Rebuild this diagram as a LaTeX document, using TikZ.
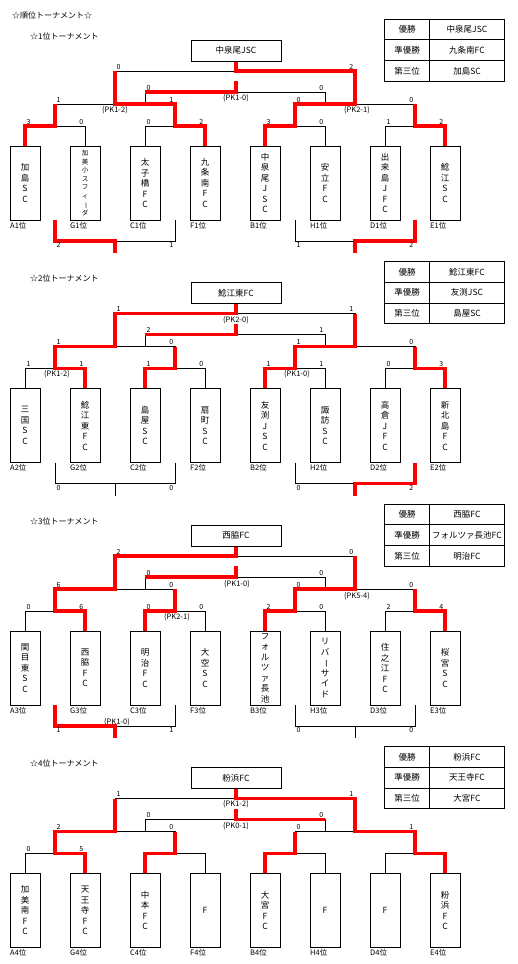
\documentclass[tikz,border=0pt]{standalone}
\usepackage{fontspec}
\usepackage{graphicx}
\setmainfont{Noto Sans CJK JP}
\usetikzlibrary{positioning}

% 縦書きの長音
\newcommand{\cho}{\rotatebox[origin=c]{-90}{ー}}

\tikzset{
  bline/.style={line width=0.9pt},
  rline/.style={red, line width=3.3pt},
  team/.style={draw, line width=1pt, minimum width=30pt, minimum height=74pt,
    inner sep=0pt, align=center, font=\fontsize{8.5}{10.5}\selectfont},
  smallteam/.style={team, font=\fontsize{6.5}{8.5}\selectfont},
  champ/.style={draw, line width=1pt, minimum width=90pt, minimum height=21pt,
    font=\fontsize{8.5}{10}\selectfont},
  cell/.style={draw, line width=1pt, minimum height=20.6pt, inner sep=0pt,
    outer sep=0pt, font=\fontsize{8.5}{10}\selectfont},
  rank/.style={anchor=north west, inner sep=0.5pt, yshift=-1pt,
    font=\fontsize{7.5}{9}\selectfont},
  num/.style={inner sep=1.5pt, font=\fontsize{7}{8}\selectfont},
  pk/.style={inner sep=1pt, font=\fontsize{7.5}{8}\selectfont},
  ttl/.style={anchor=west, inner sep=0pt, font=\fontsize{8}{10}\selectfont},
}

% 黒の線
\newcommand{\bracketlines}{%
  \draw[bline] (115,104) |- (355,71) -- (355,104);
  \draw[bline] (145,104) |- (325,92) -- (325,104);
  \foreach \a/\b in {55/175, 295/415}
    \draw[bline] (\a,126) |- (\b,104) -- (\b,126);
  \foreach \a/\b in {25/85, 145/205, 265/325, 385/445}
    \draw[bline] (\a,146) |- (\b,126) -- (\b,146);
}
\newcommand{\bottomlines}{%
  \foreach \a/\b in {55/175, 295/415} {
    \draw[bline] (\a,220) |- (\b,241) -- (\b,220);
    \draw[bline] ({(\a+\b)/2},241) -- ({(\a+\b)/2},253);
  }
}

% チーム
\newcommand{\teams}[1]{%
  \foreach \t/\l/\s [count=\i from 0] in {#1} {
    \node[\s] (t\sec\i) at ({25+60*\i},183) {\t};
    \node[rank] (r\sec\i) at (t\sec\i.south west) {\l};
  }
}

% 得点
\newcommand{\topscores}[8]{%
  \node[num, above right] (fa\sec) at (115,71) {#1};
  \node[num, above left]  (fb\sec) at (355,71) {#2};
  \node[num, above right] (ta\sec) at (145,92) {#3};
  \node[num, above left]  (tb\sec) at (325,92) {#4};
  \node[num, above right] (sa\sec) at (55,104) {#5};
  \node[num, above left]  (sb\sec) at (175,104) {#6};
  \node[num, above right] (sc\sec) at (295,104) {#7};
  \node[num, above left]  (sd\sec) at (415,104) {#8};
}
\newcommand{\qfscores}[8]{%
  \node[num, above right] (qa\sec) at (25,126) {#1};
  \node[num, above left]  (qb\sec) at (85,126) {#2};
  \node[num, above right] (qc\sec) at (145,126) {#3};
  \node[num, above left]  (qd\sec) at (205,126) {#4};
  \node[num, above right] (qe\sec) at (265,126) {#5};
  \node[num, above left]  (qf\sec) at (325,126) {#6};
  \node[num, above right] (qg\sec) at (385,126) {#7};
  \node[num, above left]  (qh\sec) at (445,126) {#8};
}
\newcommand{\botscores}[4]{%
  \node[num, below right] (ba\sec) at (55,241) {#1};
  \node[num, below left]  (bb\sec) at (175,241) {#2};
  \node[num, below right] (bc\sec) at (295,241) {#3};
  \node[num, below left]  (bd\sec) at (415,241) {#4};
}

% 結果の表
\newcommand{\results}[3]{%
  \foreach \h/\n [count=\r from 0] in {優勝/#1, 準優勝/#2, 第三位/#3} {
    \node[cell, minimum width=45pt] (h\sec\r) at (407.2,{29.6+20.6*\r}) {\h};
    \node[cell, minimum width=74.6pt, right=0pt of h\sec\r] (w\sec\r) {\n};
  }
}

\begin{document}
\begin{tikzpicture}[x=1pt, y=-1pt]
  \useasboundingbox (0,0) rectangle (518,964);
  \node[ttl] (title) at (12,15) {☆順位トーナメント☆};

  % 1位トーナメント
  \def\sec{1}
  \begin{scope}
    \node[ttl] (st\sec) at (30,36) {☆1位トーナメント};
    \node[champ] (c\sec) at (236,50.5) {中泉尾JSC};
    \bracketlines
    \bottomlines
    \draw[rline] (c\sec.south) |- (355,71) -- (355,104) -| (295,126) -| (265,146);
    \draw[rline] (115,71) -- (115,104) -| (175,126) -| (205,146);
    \draw[rline] (236,81) |- (145,92);
    \draw[rline] (55,104) -- (55,126) -| (25,146);
    \draw[rline] (415,104) -- (415,126) -| (445,146);
    \draw[rline] (55,220) |- (115,241) -- (115,253);
    \draw[rline] (415,220) |- (355,241) -- (355,253);
    \teams{{加\\島\\S\\C}/A1位/team, {加\\美\\小\\ス\\フ\\ィ\\\cho\\ダ}/G1位/smallteam,
      {太\\子\\橋\\F\\C}/C1位/team, {九\\条\\南\\F\\C}/F1位/team,
      {中\\泉\\尾\\J\\S\\C}/B1位/team, {安\\立\\F\\C}/H1位/team,
      {出\\来\\島\\J\\F\\C}/D1位/team, {鯰\\江\\S\\C}/E1位/team}
    \topscores{0}{2}{0}{0}{1}{1}{0}{0}
    \qfscores{3}{0}{0}{2}{3}{0}{1}{2}
    \botscores{2}{1}{1}{2}
    \node[pk] (pka\sec) at (236,98) {(PK1-0)};
    \node[pk] (pkb\sec) at (115,110) {(PK1-2)};
    \node[pk] (pkc\sec) at (357,110) {(PK2-1)};
    \results{中泉尾JSC}{九条南FC}{加島SC}
  \end{scope}

  % 2位トーナメント
  \def\sec{2}
  \begin{scope}[yshift=-242.5pt]
    \node[ttl] (st\sec) at (30,36) {☆2位トーナメント};
    \node[champ] (c\sec) at (236,50.5) {鯰江東FC};
    \bracketlines
    \bottomlines
    \draw[rline] (c\sec.south) |- (115,71) -- (115,104) -| (55,126) -| (85,146);
    \draw[rline] (355,71) -- (355,104) -| (295,126) -| (265,146);
    \draw[rline] (236,81) |- (145,92);
    \draw[rline] (175,104) -- (175,126) -| (145,146);
    \draw[rline] (415,104) -- (415,126) -| (445,146);
    \draw[rline] (415,220) |- (355,241) -- (355,253);
    \teams{{三\\国\\S\\C}/A2位/team, {鯰\\江\\東\\F\\C}/G2位/team,
      {島\\屋\\S\\C}/C2位/team, {扇\\町\\S\\C}/F2位/team,
      {友\\渕\\J\\S\\C}/B2位/team, {諏\\訪\\S\\C}/H2位/team,
      {高\\倉\\J\\F\\C}/D2位/team, {新\\北\\島\\F\\C}/E2位/team}
    \topscores{1}{1}{2}{1}{1}{0}{1}{0}
    \qfscores{1}{1}{1}{0}{1}{1}{0}{3}
    \botscores{0}{0}{0}{2}
    \node[pk] (pka\sec) at (236,77.5) {(PK2-0)};
    \node[pk] (pkb\sec) at (57,131.5) {(PK1-2)};
    \node[pk] (pkc\sec) at (297,131.5) {(PK1-0)};
    \results{鯰江東FC}{友渕JSC}{島屋SC}
  \end{scope}

  % 3位トーナメント
  \def\sec{3}
  \begin{scope}[yshift=-485pt]
    \node[ttl] (st\sec) at (30,36) {☆3位トーナメント};
    \node[champ] (c\sec) at (236,50.5) {西脇FC};
    \bracketlines
    \bottomlines
    \draw[rline] (c\sec.south) |- (115,71) -- (115,104) -| (55,126) -| (85,146);
    \draw[rline] (355,71) -- (355,104) -| (295,126) -| (265,146);
    \draw[rline] (236,81) |- (145,92);
    \draw[rline] (175,104) -- (175,126) -| (145,146);
    \draw[rline] (415,104) -- (415,126) -| (445,146);
    \draw[rline] (55,220) |- (115,241) -- (115,253);
    \teams{{関\\目\\東\\S\\C}/A3位/team, {西\\脇\\F\\C}/G3位/team,
      {明\\治\\F\\C}/C3位/team, {大\\空\\S\\C}/F3位/team,
      {フ\\ォ\\ル\\ツ\\ァ\\長\\池}/B3位/team, {リ\\バ\\\cho\\サ\\イ\\ド}/H3位/team,
      {住\\之\\江\\F\\C}/D3位/team, {桜\\宮\\S\\C}/E3位/team}
    \topscores{2}{0}{0}{0}{6}{0}{0}{0}
    \qfscores{0}{6}{0}{0}{2}{0}{2}{4}
    \botscores{1}{1}{0}{0}
    \node[pk] (pka\sec) at (237,99) {(PK1-0)};
    \node[pk] (pkb\sec) at (177,132) {(PK2-1)};
    \node[pk] (pkc\sec) at (357,110.7) {(PK5-4)};
    \node[pk] (pkd\sec) at (117,236.7) {(PK1-0)};
    \results{西脇FC}{フォルツァ長池FC}{明治FC}
  \end{scope}

  % 4位トーナメント
  \def\sec{4}
  \begin{scope}[yshift=-727.5pt]
    \node[ttl] (st\sec) at (30,36) {☆4位トーナメント};
    \node[champ] (c\sec) at (236,50.5) {粉浜FC};
    \bracketlines
    \draw[rline] (c\sec.south) |- (355,71) -- (355,104) -| (415,126) -| (445,146);
    \draw[rline] (115,71) -- (115,104) -| (55,126) -| (85,146);
    \draw[rline] (236,81) |- (325,92);
    \draw[rline] (295,104) -- (295,126) -| (265,146);
    \draw[rline] (175,104) -- (175,126) -| (145,146);
    \teams{{加\\美\\南\\F\\C}/A4位/team, {天\\王\\寺\\F\\C}/G4位/team,
      {中\\本\\F\\C}/C4位/team, {F}/F4位/team,
      {大\\宮\\F\\C}/B4位/team, {F}/H4位/team,
      {F}/D4位/team, {粉\\浜\\F\\C}/E4位/team}
    \topscores{1}{1}{0}{0}{2}{0}{0}{1}
    \qfscores{0}{5}{}{}{}{}{}{}
    \node[pk] (pka\sec) at (236,77) {(PK1-2)};
    \node[pk] (pkb\sec) at (236,98.5) {(PK0-1)};
    \results{粉浜FC}{天王寺FC}{大宮FC}
  \end{scope}
\end{tikzpicture}
\end{document}
